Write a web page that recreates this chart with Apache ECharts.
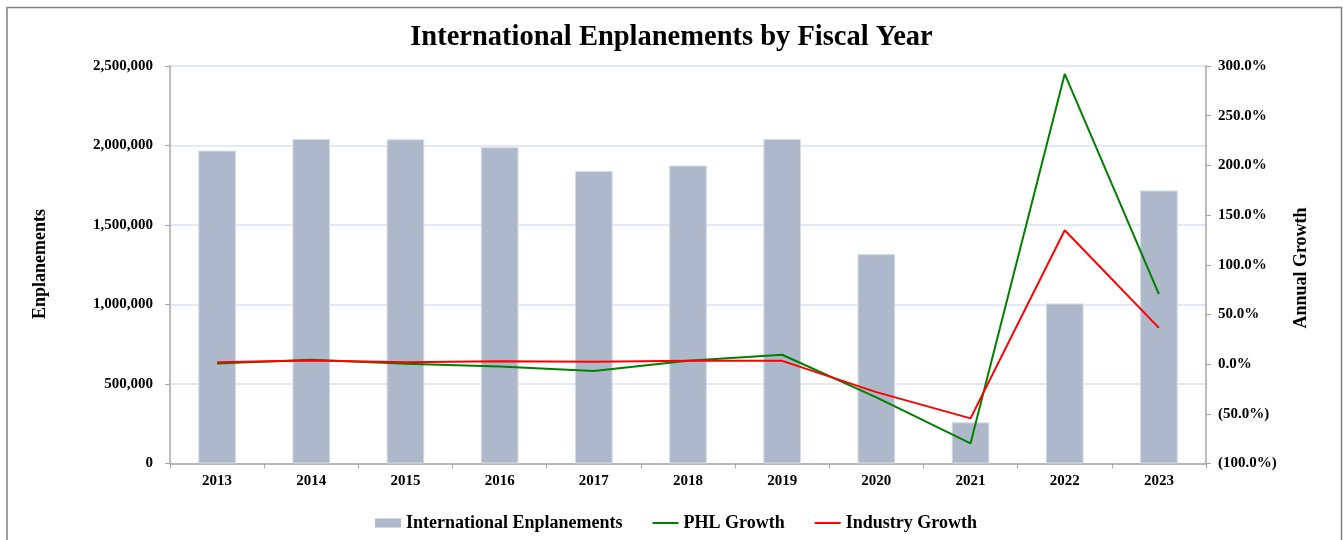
<!DOCTYPE html>
<html>
<head>
<meta charset="utf-8">
<script src="https://cdn.jsdelivr.net/npm/echarts@6/dist/echarts.min.js"></script>
<style>
html,body{margin:0;padding:0;background:#fff;}
#chart{width:1343px;height:540px;}
</style>
</head>
<body>
<div id="chart"></div>
<script>
const years = ['2013','2014','2015','2016','2017','2018','2019','2020','2021','2022','2023'];
const enplanements = [1968000, 2041000, 2039000, 1989000, 1840000, 1874000, 2041000, 1317000, 259000, 1007000, 1717000];
const phlGrowth = [0.7, 4.3, 0.3, -2.3, -7.0, 3.3, 9.4, -33.5, -79.7, 292.0, 70.4];
const industryGrowth = [2.0, 3.7, 2.0, 3.0, 2.3, 3.3, 3.3, -28.2, -54.6, 134.7, 36.5];
const leftTicks = {min: 0, max: 2500000, interval: 500000};
const rightTicks = {min: -100, max: 300, interval: 50};

const FONT = '"Liberation Serif", "Times New Roman", serif';
const chart = echarts.init(document.getElementById('chart'), null, {renderer: 'canvas'});

function fmtNum(v) { return v.toString().replace(/\B(?=(\d{3})+(?!\d))/g, ','); }
function fmtPct(v) { return v < 0 ? '(' + Math.abs(v).toFixed(1) + '%)' : v.toFixed(1) + '%'; }

const lineIcon = 'path://M0,0H26V2H0Z';

chart.setOption({
  animation: false,
  backgroundColor: '#fff',
  title: {
    text: 'International Enplanements by Fiscal Year',
    left: 'center',
    top: 23,
    padding: 0,
    textStyle: {fontFamily: FONT, fontSize: 28.5, fontWeight: 'bold', color: '#000'}
  },
  legend: {
    left: 375,
    top: 514,
    padding: 0,
    itemWidth: 26,
    itemHeight: 9,
    itemGap: 30,
    symbolKeepAspect: true,
    itemStyle: {borderWidth: 0},
    textStyle: {fontFamily: FONT, fontSize: 18, fontWeight: 'bold', color: '#000'},
    data: [
      {name: 'International Enplanements', icon: 'rect'},
      {name: 'PHL Growth', icon: lineIcon},
      {name: 'Industry Growth', icon: lineIcon}
    ]
  },
  grid: {left: 170, right: 137, top: 66, bottom: 76.5, containLabel: false},
  xAxis: {
    type: 'category',
    data: years,
    boundaryGap: true,
    axisLine: {lineStyle: {color: '#A6A6A6', width: 1.5}},
    axisTick: {show: true, length: 5, inside: false, lineStyle: {color: '#A6A6A6'}},
    axisLabel: {fontFamily: FONT, fontSize: 15, fontWeight: 'bold', color: '#000', margin: 10}
  },
  yAxis: [
    {
      type: 'value',
      min: leftTicks.min, max: leftTicks.max, interval: leftTicks.interval,
      position: 'left',
      axisLine: {show: true, lineStyle: {color: '#A6A6A6', width: 1.5}},
      axisTick: {show: true, length: 5, lineStyle: {color: '#A6A6A6'}},
      splitLine: {show: true, lineStyle: {color: '#D9E1F2', width: 1.5}},
      axisLabel: {fontFamily: FONT, fontSize: 15, fontWeight: 'bold', color: '#000', margin: 17, formatter: fmtNum}
    },
    {
      type: 'value',
      min: rightTicks.min, max: rightTicks.max, interval: rightTicks.interval,
      position: 'right',
      axisLine: {show: true, lineStyle: {color: '#A6A6A6', width: 1.5}},
      axisTick: {show: true, length: 5, lineStyle: {color: '#A6A6A6'}},
      splitLine: {show: false},
      axisLabel: {fontFamily: FONT, fontSize: 15, fontWeight: 'bold', color: '#000', margin: 12, formatter: fmtPct}
    }
  ],
  graphic: [
    {type: 'rect', shape: {x: 7, y: 7.5, width: 1334.5, height: 600}, style: {fill: 'none', stroke: '#808080', lineWidth: 1.5}, z: 100},
    {type: 'text', x: 40, y: 264, rotation: Math.PI / 2,
      style: {text: 'Enplanements', font: 'bold 18px ' + FONT, fill: '#000', textAlign: 'center', textVerticalAlign: 'middle'}},
    {type: 'text', x: 1301, y: 268, rotation: Math.PI / 2,
      style: {text: 'Annual Growth', font: 'bold 18px ' + FONT, fill: '#000', textAlign: 'center', textVerticalAlign: 'middle'}}
  ],
  series: [
    {
      name: 'International Enplanements',
      type: 'bar',
      yAxisIndex: 0,
      data: enplanements,
      barWidth: '40%',
      itemStyle: {color: '#ADB9CA', borderColor: '#D5DCE6', borderWidth: 1}
    },
    {
      name: 'PHL Growth',
      type: 'line',
      yAxisIndex: 1,
      data: phlGrowth,
      symbol: 'none',
      itemStyle: {color: '#008000'},
      lineStyle: {color: '#008000', width: 2}
    },
    {
      name: 'Industry Growth',
      type: 'line',
      yAxisIndex: 1,
      data: industryGrowth,
      symbol: 'none',
      itemStyle: {color: '#FF0000'},
      lineStyle: {color: '#FF0000', width: 2}
    }
  ]
});
</script>
</body>
</html>
